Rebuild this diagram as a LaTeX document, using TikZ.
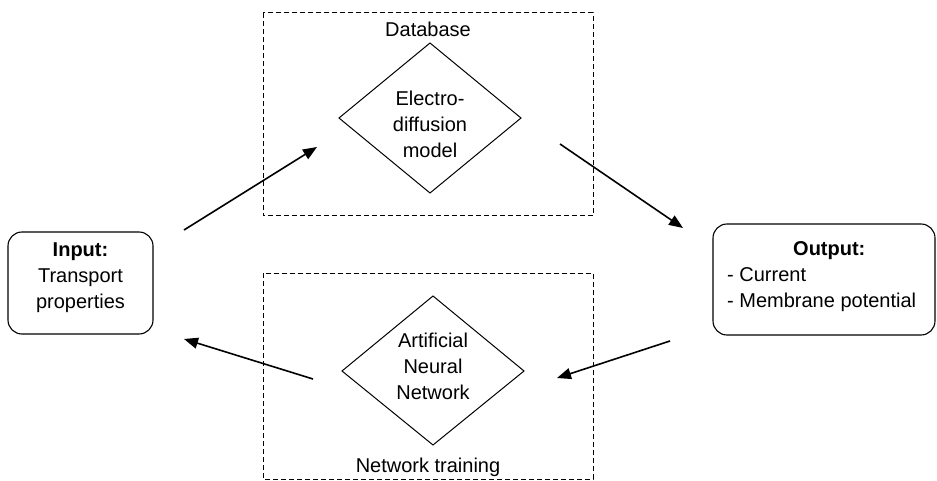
\documentclass[tikz,border=0pt]{standalone}
\usepackage{fontspec}
\setmainfont{Liberation Sans}
\usetikzlibrary{shapes.geometric,arrows.meta}
\tikzset{
  txt/.style={font=\fontsize{20}{26}\selectfont, inner sep=0pt, align=center},
  dashbox/.style={draw, line width=1pt, dash pattern=on 5pt off 3pt},
  iobox/.style={draw, line width=1.1pt, rounded corners=14pt, inner sep=0pt},
  dia/.style={draw, line width=1pt, diamond, inner sep=0pt},
  flow/.style={line width=1.6pt, -{Triangle[length=14pt,width=11pt]}}
}
\begin{document}
\begin{tikzpicture}[x=1pt,y=-1pt]
\useasboundingbox (0,0) rectangle (937,481);
% dashed groups
\draw[dashbox] (263,13) rectangle (593,216);
\draw[dashbox] (263,273) rectangle (593,479);
\node[txt] (db) at (428,29) {Database};
\node[txt] (nt) at (428,467) {Network training};
% diamonds
\draw[line width=1pt] (430,43) coordinate (d1t) -- (521,118) -- (430,193) -- (339,118) -- cycle;
\node[txt] (edm) at (430,124) {\fontsize{20}{27}\selectfont Electro-\\diffusion\\model};
\draw[line width=1pt] (433,296) coordinate (d2t) -- (524,371) -- (433,445) -- (342,371) -- cycle;
\node[txt] (ann) at (433,366) {\fontsize{20}{27}\selectfont Artificial\\Neural\\Network};
% input/output boxes
\node[iobox, minimum width=145pt, minimum height=102pt] (inbox) at (80.5,283) {};
\node[txt] (intext) at (80.5,278) {\textbf{Input:}\\Transport\\properties};
\node[iobox, minimum width=222pt, minimum height=111pt] (outbox) at (824,279.5) {};
\node[txt, align=left, anchor=west] (outtext) at (727,277) {\fontsize{20}{24}\selectfont\hspace*{66pt}\textbf{Output:}\\- Current\\- Membrane potential};
% arrows
\coordinate (a1s) at (184,230); \coordinate (a1e) at (317,147);
\coordinate (a2s) at (560,144); \coordinate (a2e) at (683,228);
\coordinate (a3s) at (313,379); \coordinate (a3e) at (184,339);
\coordinate (a4s) at (670,341); \coordinate (a4e) at (557,378);
\draw[flow] (a1s) -- (a1e);
\draw[flow] (a2s) -- (a2e);
\draw[flow] (a3s) -- (a3e);
\draw[flow] (a4s) -- (a4e);
\end{tikzpicture}
\end{document}
